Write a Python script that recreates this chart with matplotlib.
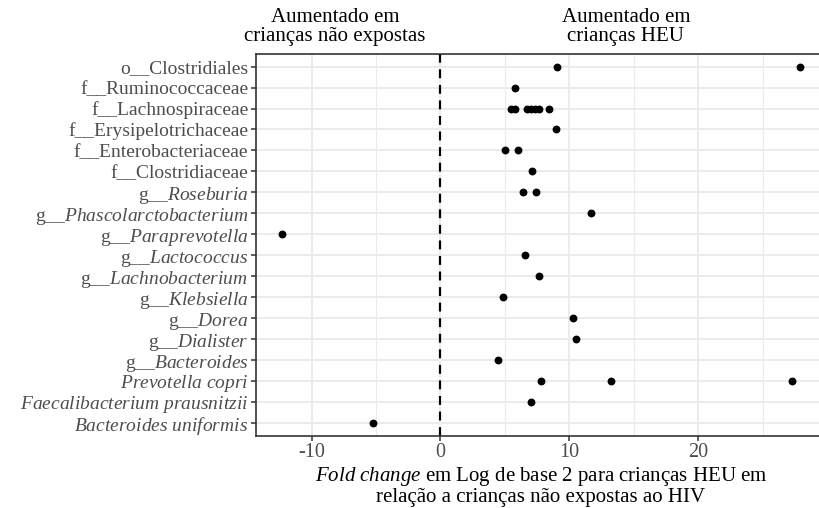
import matplotlib
matplotlib.use("Agg")
import matplotlib.pyplot as plt

plt.rcParams["font.family"] = ["Liberation Serif", "DejaVu Serif"]
plt.rcParams["mathtext.fontset"] = "custom"
plt.rcParams["mathtext.rm"] = "Liberation Serif"
plt.rcParams["mathtext.it"] = "Liberation Serif:italic"
plt.rcParams["mathtext.bf"] = "Liberation Serif:bold"

# Taxa, top to bottom
taxa = [
    r"o__Clostridiales",
    r"f__Ruminococcaceae",
    r"f__Lachnospiraceae",
    r"f__Erysipelotrichaceae",
    r"f__Enterobacteriaceae",
    r"f__Clostridiaceae",
    r"g__$\mathit{Roseburia}$",
    r"g__$\mathit{Phascolarctobacterium}$",
    r"g__$\mathit{Paraprevotella}$",
    r"g__$\mathit{Lactococcus}$",
    r"g__$\mathit{Lachnobacterium}$",
    r"g__$\mathit{Klebsiella}$",
    r"g__$\mathit{Dorea}$",
    r"g__$\mathit{Dialister}$",
    r"g__$\mathit{Bacteroides}$",
    r"$\mathit{Prevotella\ copri}$",
    r"$\mathit{Faecalibacterium\ prausnitzii}$",
    r"$\mathit{Bacteroides\ uniformis}$",
]

# log2 fold change of each significant OTU within its taxon
log2fc = [
    [9.05, 27.9],
    [5.8],
    [5.46, 5.77, 6.70, 7.01, 7.32, 7.67, 8.45],
    [9.0],
    [5.04, 6.0],
    [7.13],
    [6.41, 7.4],
    [11.7],
    [-12.3],
    [6.57],
    [7.65],
    [4.86],
    [10.26],
    [10.5],
    [4.5],
    [7.78, 13.26, 27.3],
    [7.03],
    [-5.2],
]

x_ticks = [-10, 0, 10, 20]
x_minor = [-5, 5, 15, 25]

W, H = 820, 508
fig = plt.figure(figsize=(W / 100, H / 100), dpi=100)
ax = fig.add_axes([256 / W, 1 - 435.5 / H, (826 - 256) / W, (435.5 - 54) / H])

n = len(taxa)
ypos = list(range(n, 0, -1))
xs, ys = [], []
for y, vals in zip(ypos, log2fc):
    for v in vals:
        xs.append(v)
        ys.append(y)

allv = [v for vals in log2fc for v in vals]
lo, hi = min(allv), max(allv)
pad = 0.05 * (hi - lo)
ax.set_xlim(lo - pad, hi + pad)
ax.set_ylim(0.4, n + 0.6)

# grid
for xv in x_minor:
    ax.axvline(xv, color="#EBEBEB", lw=0.8, zorder=0)
for xv in x_ticks:
    ax.axvline(xv, color="#EBEBEB", lw=1.4, zorder=0)
for y in ypos:
    ax.axhline(y, color="#EBEBEB", lw=1.4, zorder=0)

ax.axvline(0, color="black", lw=1.6, ls=(0, (4, 3)), zorder=2)
ax.scatter(xs, ys, s=32, color="black", zorder=3, linewidths=0)

ax.set_xticks(x_ticks)
ax.set_xticklabels([str(t) for t in x_ticks])
ax.set_yticks(ypos)
ax.set_yticklabels(taxa)
ax.tick_params(axis="both", colors="#333333", length=3.5, width=1.1,
               labelsize=14.5, labelcolor="#4D4D4D", pad=2)
ax.tick_params(axis="y", labelsize=14)
for s in ax.spines.values():
    s.set_color("#333333")
    s.set_linewidth(1.2)

ax.set_xlabel("$\\mathit{Fold\\ change}$ em Log de base 2 para crianças HEU em\n"
              "relação a crianças não expostas ao HIV",
              fontsize=15, color="black", labelpad=2, linespacing=1.0)

fig.text(335 / W, 1 - 27 / H, "Aumentado em\ncrianças não expostas",
         ha="center", va="center", fontsize=15, linespacing=0.95)
fig.text(626 / W, 1 - 27 / H, "Aumentado em\ncrianças HEU",
         ha="center", va="center", fontsize=15, linespacing=0.95)

fig.savefig("out.png", dpi=100)
